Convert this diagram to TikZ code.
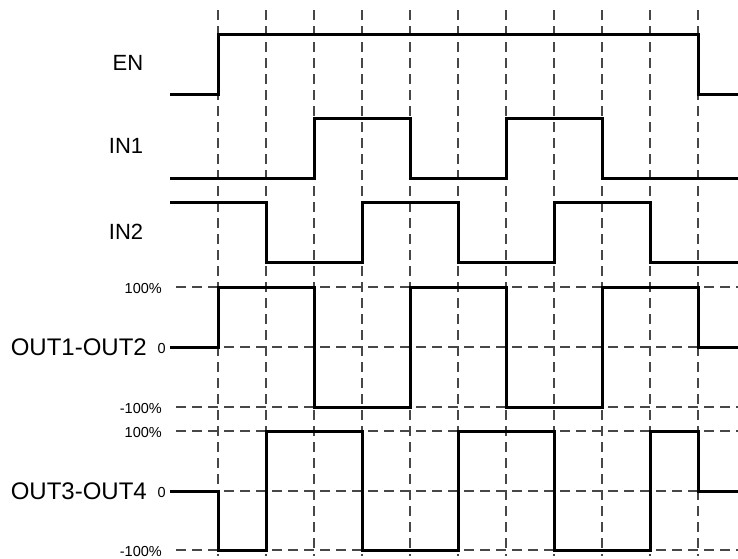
\documentclass[tikz,border=0pt]{standalone}
\usepackage{fontspec}
\setmainfont{Liberation Sans}
\begin{document}
\begin{tikzpicture}[x=1pt,y=-1pt,
  grid/.style={draw=black!72,line width=1.8pt,dash pattern=on 10pt off 6pt},
  sig/.style={draw=black,line width=3pt},
  big/.style={font=\fontsize{22}{26}\selectfont,inner sep=0pt},
  bigger/.style={font=\fontsize{24}{28}\selectfont,inner sep=0pt},
  small/.style={font=\fontsize{14.5}{17}\selectfont,inner sep=0pt}]
\useasboundingbox[fill=white] (0,0) rectangle (738,558);
% vertical grid
\foreach \x in {218,266,...,698} \draw[grid] (\x,10) -- (\x,556);
% horizontal grid
\foreach \y in {287,347,407,431,491,550} \draw[grid] (176,\y) -- (738,\y);
% labels
\node[big] (en) at (128,63) {EN};
\node[big] (in1) at (126,146) {IN1};
\node[big] (in2) at (126,232) {IN2};
\node[bigger,anchor=east] (o12) at (147,347) {OUT1-OUT2};
\node[bigger,anchor=east] (o34) at (147,491) {OUT3-OUT4};
\node[small,anchor=east] (a1) at (162,288) {100\%};
\node[small,anchor=east] (a0) at (166,348) {0};
\node[small,anchor=east] (am) at (162,408) {-100\%};
\node[small,anchor=east] (b1) at (162,432) {100\%};
\node[small,anchor=east] (b0) at (166,492) {0};
\node[small,anchor=east] (bm) at (162,551) {-100\%};
% signals
\draw[sig] (170,94)--(218,94)--(218,34)--(698,34)--(698,94)--(738,94);
\draw[sig] (170,178)--(314,178)--(314,118)--(410,118)--(410,178)--(506,178)--(506,118)--(602,118)--(602,178)--(738,178);
\draw[sig] (170,202)--(266,202)--(266,262)--(362,262)--(362,202)--(458,202)--(458,262)--(554,262)--(554,202)--(650,202)--(650,262)--(738,262);
\draw[sig] (170,347)--(218,347)--(218,287)--(314,287)--(314,407)--(410,407)--(410,287)--(506,287)--(506,407)--(602,407)--(602,287)--(698,287)--(698,347)--(738,347);
\draw[sig] (170,491)--(218,491)--(218,550)--(266,550)--(266,431)--(362,431)--(362,550)--(458,550)--(458,431)--(554,431)--(554,550)--(650,550)--(650,431)--(698,431)--(698,491)--(738,491);
\end{tikzpicture}
\end{document}
